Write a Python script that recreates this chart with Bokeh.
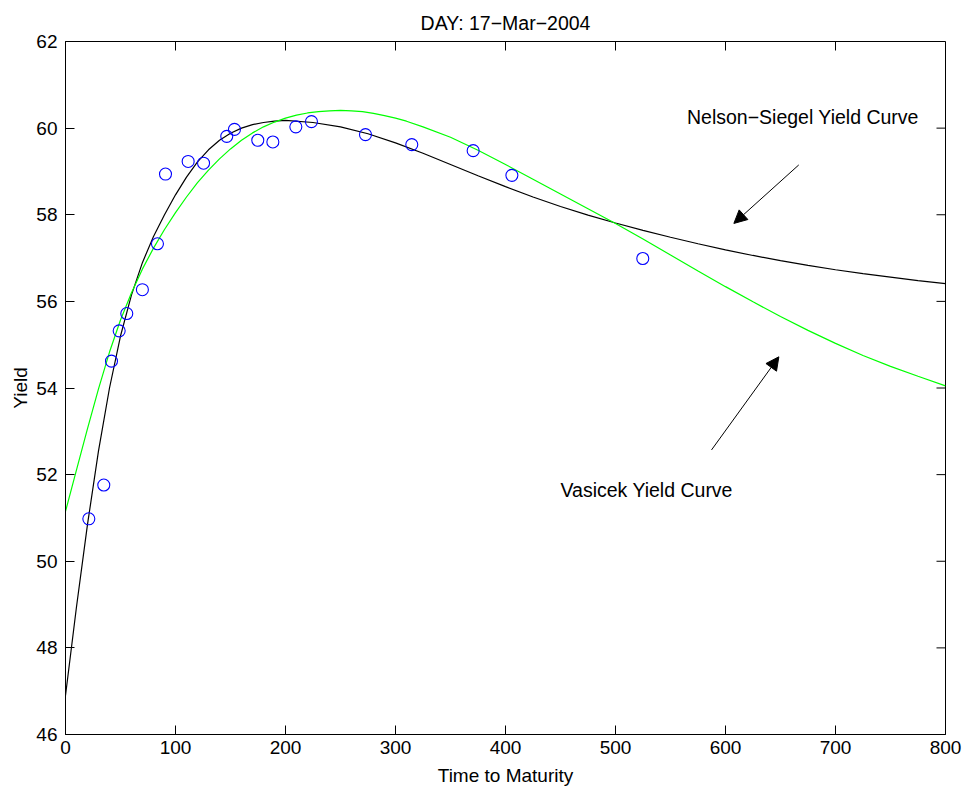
from bokeh.plotting import figure
from bokeh.models import (FixedTicker, Range1d, Label, Arrow, NormalHead,
                          ColumnDataSource)
from bokeh.embed import file_html
from bokeh.resources import INLINE

# ---- data ----
title_text = "DAY: 17\u2212Mar\u22122004"
x_label = "Time to Maturity"
y_label = "Yield"

obs_x = [21.2, 34.8, 41.8, 48.8, 55.7, 69.9, 83.6, 90.9, 111.5, 125.5,
         146.6, 153.6, 174.8, 188.5, 209.4, 223.6, 272.7, 314.8, 370.6,
         405.8, 524.8]
obs_y = [50.98, 51.76, 54.62, 55.32, 55.72, 56.27, 57.33, 58.94, 59.23, 59.19,
         59.81, 59.97, 59.72, 59.68, 60.03, 60.15, 59.85, 59.62, 59.48,
         58.91, 56.99]

ns_x = [0, 10, 20, 30, 40, 50, 60, 70, 80, 90, 100, 110, 120, 130, 140,
        150, 160, 170, 180, 190, 200, 225, 250, 275, 300, 325, 350, 375,
        400, 425, 450, 475, 500, 525, 550, 575, 600, 625, 650, 675, 700,
        725, 750, 775, 800]
ns_y = [46.90, 48.95, 50.85, 52.55, 54.00, 55.20, 56.15, 56.90, 57.50, 58.00,
        58.46, 58.87, 59.22, 59.50, 59.72, 59.88, 60.00, 60.08, 60.13, 60.16,
        60.18, 60.13, 60.03, 59.87, 59.66, 59.42, 59.16, 58.90, 58.65, 58.41,
        58.19, 57.99, 57.81, 57.64, 57.48, 57.33, 57.19, 57.06, 56.94, 56.83,
        56.73, 56.64, 56.56, 56.48, 56.41]

vas_x = [0, 10, 20, 30, 40, 50, 60, 70, 80, 90, 100, 110, 120, 130, 140,
         150, 160, 170, 180, 190, 200, 210, 220, 230, 240, 250, 260, 270,
         280, 290, 300, 310, 325, 350, 375, 400, 425, 450, 475, 500, 525,
         550, 575, 600, 625, 650, 675, 700, 725, 750, 775, 800]
vas_y = [51.15, 52.11, 53.06, 53.98, 54.83, 55.57, 56.20, 56.75, 57.23, 57.66,
         58.05, 58.41, 58.74, 59.03, 59.29, 59.52, 59.72, 59.89, 60.03, 60.14,
         60.23, 60.30, 60.35, 60.38, 60.40, 60.41, 60.40, 60.38, 60.34, 60.29,
         60.23, 60.16, 60.03, 59.79, 59.49, 59.16, 58.82, 58.48, 58.14, 57.80,
         57.44, 57.07, 56.70, 56.34, 55.99, 55.65, 55.33, 55.03, 54.75, 54.50,
         54.27, 54.05]

x_ticks = [0, 100, 200, 300, 400, 500, 600, 700, 800]
y_ticks = [46, 48, 50, 52, 54, 56, 58, 60, 62]

ann_texts = ["Nelson\u2212Siegel Yield Curve", "Vasicek Yield Curve"]
ann_x = [565.0, 450.0]
ann_y = [60.26, 51.64]
arrow_start_x = [666.6, 587.3]
arrow_start_y = [59.15, 52.57]
arrow_end_x = [607.6, 648.5]
arrow_end_y = [57.80, 54.72]

FONT = "Liberation Sans"
FS = "19px"
X0, X1, Y0, Y1 = 0, 800, 46, 62
FW, FH = 880, 693
TICK_PX = 9

p = figure(width=967, height=791, frame_width=FW, frame_height=FH,
           x_range=Range1d(X0, X1), y_range=Range1d(Y0, Y1),
           output_backend="svg", toolbar_location=None,
           min_border_left=65, min_border_right=22,
           min_border_top=41, min_border_bottom=57,
           x_axis_label=x_label, y_axis_label=y_label)
p.background_fill_color = "white"
p.border_fill_color = "white"
p.outline_line_color = "black"
p.outline_line_width = 1
p.xgrid.visible = False
p.ygrid.visible = False

p.title.text = title_text
p.title.align = "center"
p.title.text_font = FONT
p.title.text_font_size = "19.5px"
p.title.text_font_style = "normal"
p.title.text_color = "black"
p.title.standoff = 15

def style_axis(ax, ticks):
    ax.ticker = FixedTicker(ticks=ticks)
    ax.major_tick_in = TICK_PX
    ax.major_tick_out = 0
    ax.minor_tick_in = 0
    ax.minor_tick_out = 0
    ax.axis_line_color = "black"
    ax.axis_line_width = 1
    ax.major_tick_line_color = "black"
    ax.major_tick_line_width = 1
    ax.major_label_text_font = FONT
    ax.major_label_text_font_size = FS
    ax.major_label_text_color = "black"
    ax.axis_label_text_font = FONT
    ax.axis_label_text_font_size = FS
    ax.axis_label_text_font_style = "normal"
    ax.axis_label_text_color = "black"

style_axis(p.xaxis[0], x_ticks)
style_axis(p.yaxis[0], y_ticks)
p.xaxis[0].major_label_standoff = 6
p.xaxis[0].axis_label_standoff = 8
p.yaxis[0].major_label_standoff = 8
p.yaxis[0].axis_label_standoff = 2

# inward ticks on the top and right edges of the box (MATLAB style)
dy = TICK_PX * (Y1 - Y0) / FH
dx = TICK_PX * (X1 - X0) / FW
p.segment(x0=x_ticks, y0=[Y1] * len(x_ticks), x1=x_ticks,
          y1=[Y1 - dy] * len(x_ticks), line_color="black", line_width=1)
p.segment(x0=[X1] * len(y_ticks), y0=y_ticks, x1=[X1 - dx] * len(y_ticks),
          y1=y_ticks, line_color="black", line_width=1)

ns_src = ColumnDataSource(dict(x=ns_x, y=ns_y))
vas_src = ColumnDataSource(dict(x=vas_x, y=vas_y))
obs_src = ColumnDataSource(dict(x=obs_x, y=obs_y))

p.line("x", "y", source=ns_src, line_color="black", line_width=1.2)
p.line("x", "y", source=vas_src, line_color="#00ff00", line_width=1.2)
p.scatter("x", "y", source=obs_src, marker="circle", size=12,
          fill_color=None, line_color="#0000ff", line_width=1.1)

for i in range(len(arrow_start_x)):
    p.add_layout(Arrow(
        end=NormalHead(size=13, fill_color="black", line_color="black",
                       line_width=1),
        x_start=arrow_start_x[i], y_start=arrow_start_y[i],
        x_end=arrow_end_x[i], y_end=arrow_end_y[i],
        line_color="black", line_width=1))

for t, tx, ty in zip(ann_texts, ann_x, ann_y):
    p.add_layout(Label(x=tx, y=ty, text=t, text_font=FONT,
                       text_font_size="19.5px", text_color="black",
                       text_align="left", text_baseline="middle"))

open("out.html", "w").write(file_html(p, INLINE))
